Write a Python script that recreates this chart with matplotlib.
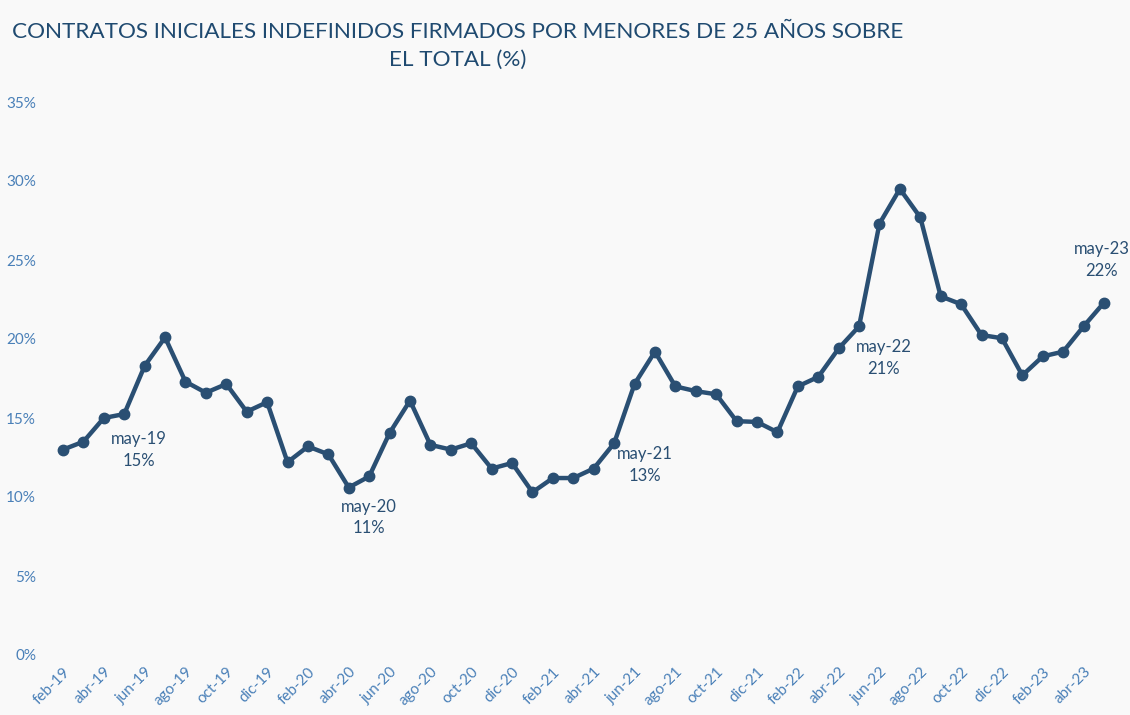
import numpy as np
from matplotlib import pyplot as plt

# meses feb-19 .. may-23
meses = ['feb', 'mar', 'abr', 'may', 'jun', 'jul', 'ago', 'sep', 'oct', 'nov', 'dic', 'ene']
etiquetas = []
anio = 19
for i in range(52):
    m = meses[i % 12]
    if m == 'ene':
        anio += 1
    etiquetas.append(m + '-' + str(anio))

valores = [13.0, 13.5, 15.0, 15.25, 18.3, 20.1, 17.3, 16.6, 17.15, 15.4, 16.0,
           12.2, 13.2, 12.7, 10.6, 11.3, 14.05, 16.1, 13.3, 13.0, 13.4, 11.8, 12.15,
           10.3, 11.2, 11.2, 11.8, 13.4, 17.15, 19.2, 17.0, 16.7, 16.5, 14.8, 14.75,
           14.1, 17.0, 17.6, 19.4, 20.8, 27.3, 29.5, 27.7, 22.7, 22.2, 20.25, 20.05,
           17.7, 18.9, 19.2, 20.8, 22.3]

destacados = ['may-19', 'may-20', 'may-21', 'may-22', 'may-23']
textos = ['15%', '11%', '13%', '21%', '22%']

azul = '#2a4f73'
azul_ticks = '#4a80b8'
fondo = '#f9f9f9'

plt.rcParams['font.family'] = ['Lato', 'DejaVu Sans']

fig = plt.figure(figsize=(11.3, 7.15), dpi=100)
fig.patch.set_facecolor(fondo)
ax = fig.add_axes([43 / 1130, 60 / 715, 1081 / 1130, 553 / 715])
ax.set_facecolor(fondo)

x = np.arange(len(valores))
ax.plot(x, valores, color=azul, lw=3.2, marker='o', ms=7.5, clip_on=False)

ax.set_xlim(-0.98, 51.98)
ax.set_ylim(0, 35)
ax.set_yticks(range(0, 36, 5))
ax.set_yticklabels([str(v) + '%' for v in range(0, 36, 5)])
ax.set_xticks(x[::2])
ax.set_xticklabels(etiquetas[::2], rotation=45, ha='right', rotation_mode='anchor')
ax.tick_params(length=0, colors=azul_ticks, labelsize=11)
ax.tick_params(axis='x', pad=7)
ax.tick_params(axis='y', pad=5)
for s in ax.spines.values():
    s.set_visible(False)

# etiquetas de mayo
desplaz = {'may-19': (0.7, -1.1), 'may-20': (0, -1.4), 'may-21': (1.5, -0.2),
           'may-22': (1.2, -0.8), 'may-23': (-0.1, 1.5)}
for et, t in zip(destacados, textos):
    i = etiquetas.index(et)
    dx, dy = desplaz[et]
    va = 'top' if dy < 0 else 'bottom'
    ax.text(i + dx, valores[i] + dy, et + '\n' + t, color=azul, fontsize=12,
            ha='center', va=va, linespacing=1.45, clip_on=False)

fig.text(458 / 1130, 1 - 46 / 715, 'CONTRATOS INICIALES INDEFINIDOS FIRMADOS POR MENORES DE 25 AÑOS SOBRE\nEL TOTAL (%)',
         ha='center', va='center', color='#1f4a70', fontsize=16.2, linespacing=1.5)

fig.savefig('out.png', dpi=100, facecolor=fondo)
